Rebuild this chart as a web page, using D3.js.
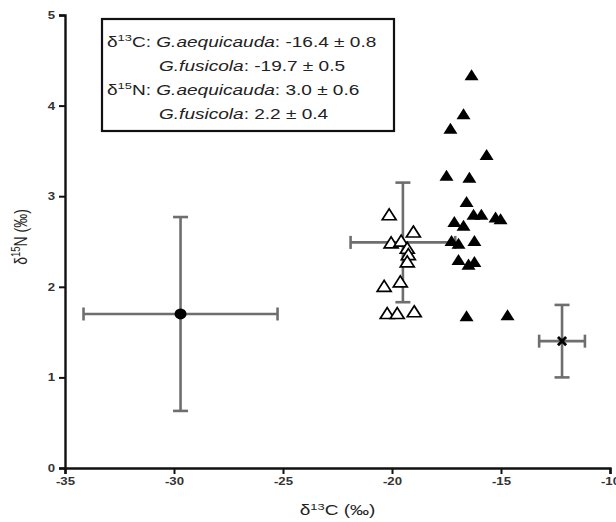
<!DOCTYPE html>
<html><head><meta charset="utf-8">
<script src="https://cdn.jsdelivr.net/npm/d3@7"></script>
<style>body{margin:0;background:#fff}svg{display:block}text{font-family:"Liberation Sans",Arial,sans-serif}</style>
</head><body><svg id="c" width="616" height="522"></svg>
<script>
// G. fusicola (open triangles): [δ13C, δ15N]
const fusicolaC = [-20.13,-19.02,-20.04,-19.58,-19.30,-19.25,-19.30,-19.62,-20.36,-20.22,-19.76,-18.98];
const fusicolaN = [2.78,2.59,2.47,2.49,2.41,2.34,2.26,2.04,1.99,1.69,1.69,1.71];
// G. aequicauda (filled triangles)
const aequiC = [-16.35,-16.72,-17.32,-15.66,-17.50,-16.45,-16.58,-16.26,-15.90,-15.25,-15.02,-17.14,-16.72,-17.27,-16.95,-16.22,-16.95,-16.49,-16.22,-16.58,-14.70];
const aequiN = [4.32,3.89,3.73,3.44,3.21,3.19,2.92,2.78,2.78,2.75,2.73,2.70,2.66,2.49,2.46,2.49,2.28,2.23,2.26,1.66,1.67];
// Sources: mean ± SD
const sourceNames = ["dot","plain","xmark"];
const sourceC = [-29.7,-19.5,-12.2];
const sourceCsd = [4.45,2.4,1.05];
const sourceN = [1.70,2.49,1.40];
const sourceNsd = [1.07,0.66,0.40];
const xTicks = [-35,-30,-25,-20,-15,-10];
const yTicks = [0,1,2,3,4,5];
const legendLines = [
  {iso:"13", el:"C: ", sp:"G.aequicauda", val:": -16.4 ± 0.8"},
  {iso:null, el:null, sp:"G.fusicola", val:": -19.7 ± 0.5"},
  {iso:"15", el:"N: ", sp:"G.aequicauda", val:": 3.0 ± 0.6"},
  {iso:null, el:null, sp:"G.fusicola", val:": 2.2 ± 0.4"}
];

const SX = 1.36; // horizontal stretch of the text in the reference
const svg = d3.select("#c");
const x = d3.scaleLinear().domain([-35,-10]).range([65,610]);
const y = d3.scaleLinear().domain([0,5]).range([468,15]);

// axes
const xa = svg.append("g").attr("transform",`translate(0,${y(0)})`)
  .call(d3.axisBottom(x).tickValues(xTicks).tickSize(6).tickFormat(d3.format("d")));
const ya = svg.append("g").attr("transform",`translate(${x(-35)},0)`)
  .call(d3.axisLeft(y).tickValues(yTicks).tickSize(6).tickFormat(d3.format("d")));
[xa,ya].forEach(a=>{
  a.select(".domain").attr("stroke","#111").attr("stroke-width",2.4);
  a.selectAll(".tick line").attr("stroke","#111").attr("stroke-width",2);
  a.selectAll(".tick text").attr("fill","#333").style("font-size","11px").style("font-weight","bold").style("font-family","Liberation Sans, Arial, sans-serif");
});
xa.selectAll(".tick text").text(d=>"-"+Math.abs(d)).attr("y",0)
  .attr("transform","translate(0,9) scale(1.2,1)");
ya.selectAll(".tick text").attr("x",0).attr("transform","translate(-10,0) scale(1.2,1)");

// axis titles
const xt = svg.append("text").attr("transform",`translate(${(x(-35)+x(-10))/2},515) scale(${SX},1)`).attr("text-anchor","middle")
  .style("font-size","14px").attr("fill","#222");
xt.append("tspan").text("δ");
xt.append("tspan").text("13").attr("dy","-5").style("font-size","9.5px");
xt.append("tspan").text("C (‰)").attr("dy","5");
const yt = svg.append("text").attr("transform",`translate(27,${y(2.55)}) scale(${SX},1) rotate(-90)`).attr("text-anchor","middle")
  .style("font-size","14px").attr("fill","#222");
yt.append("tspan").text("δ");
yt.append("tspan").text("15").attr("dy","-5").style("font-size","9.5px");
yt.append("tspan").text("N (‰)").attr("dy","5");

// error bars
const capH = 6.5, capW = 7.5;
const eb = svg.append("g").attr("stroke","#6e6e6e").attr("stroke-width",2.6).attr("fill","none");
sourceC.forEach((c,i)=>{
  const cx=x(c), cy=y(sourceN[i]);
  const x0=x(c-sourceCsd[i]), x1=x(c+sourceCsd[i]);
  const y0=y(sourceN[i]-sourceNsd[i]), y1=y(sourceN[i]+sourceNsd[i]);
  eb.append("line").attr("x1",x0).attr("x2",x1).attr("y1",cy).attr("y2",cy);
  eb.append("line").attr("x1",cx).attr("x2",cx).attr("y1",y0).attr("y2",y1);
  eb.append("line").attr("x1",x0).attr("x2",x0).attr("y1",cy-capH).attr("y2",cy+capH);
  eb.append("line").attr("x1",x1).attr("x2",x1).attr("y1",cy-capH).attr("y2",cy+capH);
  eb.append("line").attr("x1",cx-capW).attr("x2",cx+capW).attr("y1",y0).attr("y2",y0);
  eb.append("line").attr("x1",cx-capW).attr("x2",cx+capW).attr("y1",y1).attr("y2",y1);
});
// source markers
svg.append("ellipse").attr("cx",x(sourceC[0])).attr("cy",y(sourceN[0])).attr("rx",6).attr("ry",5.5).attr("fill","#000");
svg.append("path").attr("d",d3.symbol(d3.symbolX,45)()).attr("transform",`translate(${x(sourceC[2])},${y(sourceN[2])})`)
  .attr("stroke","#000").attr("stroke-width",2.8).attr("fill","none");

// triangles
const tri = d3.symbol(d3.symbolTriangle,70)();
svg.append("g").selectAll("path").data(fusicolaC.map((c,i)=>[c,fusicolaN[i]])).join("path")
  .attr("d",tri).attr("transform",d=>`translate(${x(d[0])},${y(d[1])}) scale(1.1,1)`)
  .attr("fill","#fff").attr("stroke","#000").attr("stroke-width",1.6);
svg.append("g").selectAll("path").data(aequiC.map((c,i)=>[c,aequiN[i]])).join("path")
  .attr("d",tri).attr("transform",d=>`translate(${x(d[0])},${y(d[1])}) scale(1.1,1)`)
  .attr("fill","#000");

// legend box
const lg = svg.append("g");
lg.append("rect").attr("x",102).attr("y",19).attr("width",292).attr("height",112)
  .attr("fill","#fff").attr("stroke","#111").attr("stroke-width",2.2);
const lineY = [47,71,95,119];
const indent = 159;
legendLines.forEach((l,i)=>{
  const t = lg.append("text").attr("transform",`translate(${l.iso?107:indent},${lineY[i]}) scale(${SX},1)`)
    .style("font-size","14px").attr("fill","#222");
  if(l.iso){
    t.append("tspan").text("δ");
    t.append("tspan").text(l.iso).attr("dy","-6").style("font-size","9.5px");
    t.append("tspan").text(l.el).attr("dy","6");
  }
  t.append("tspan").text(l.sp).style("font-style","italic");
  t.append("tspan").text(l.val);
});
</script></body></html>
